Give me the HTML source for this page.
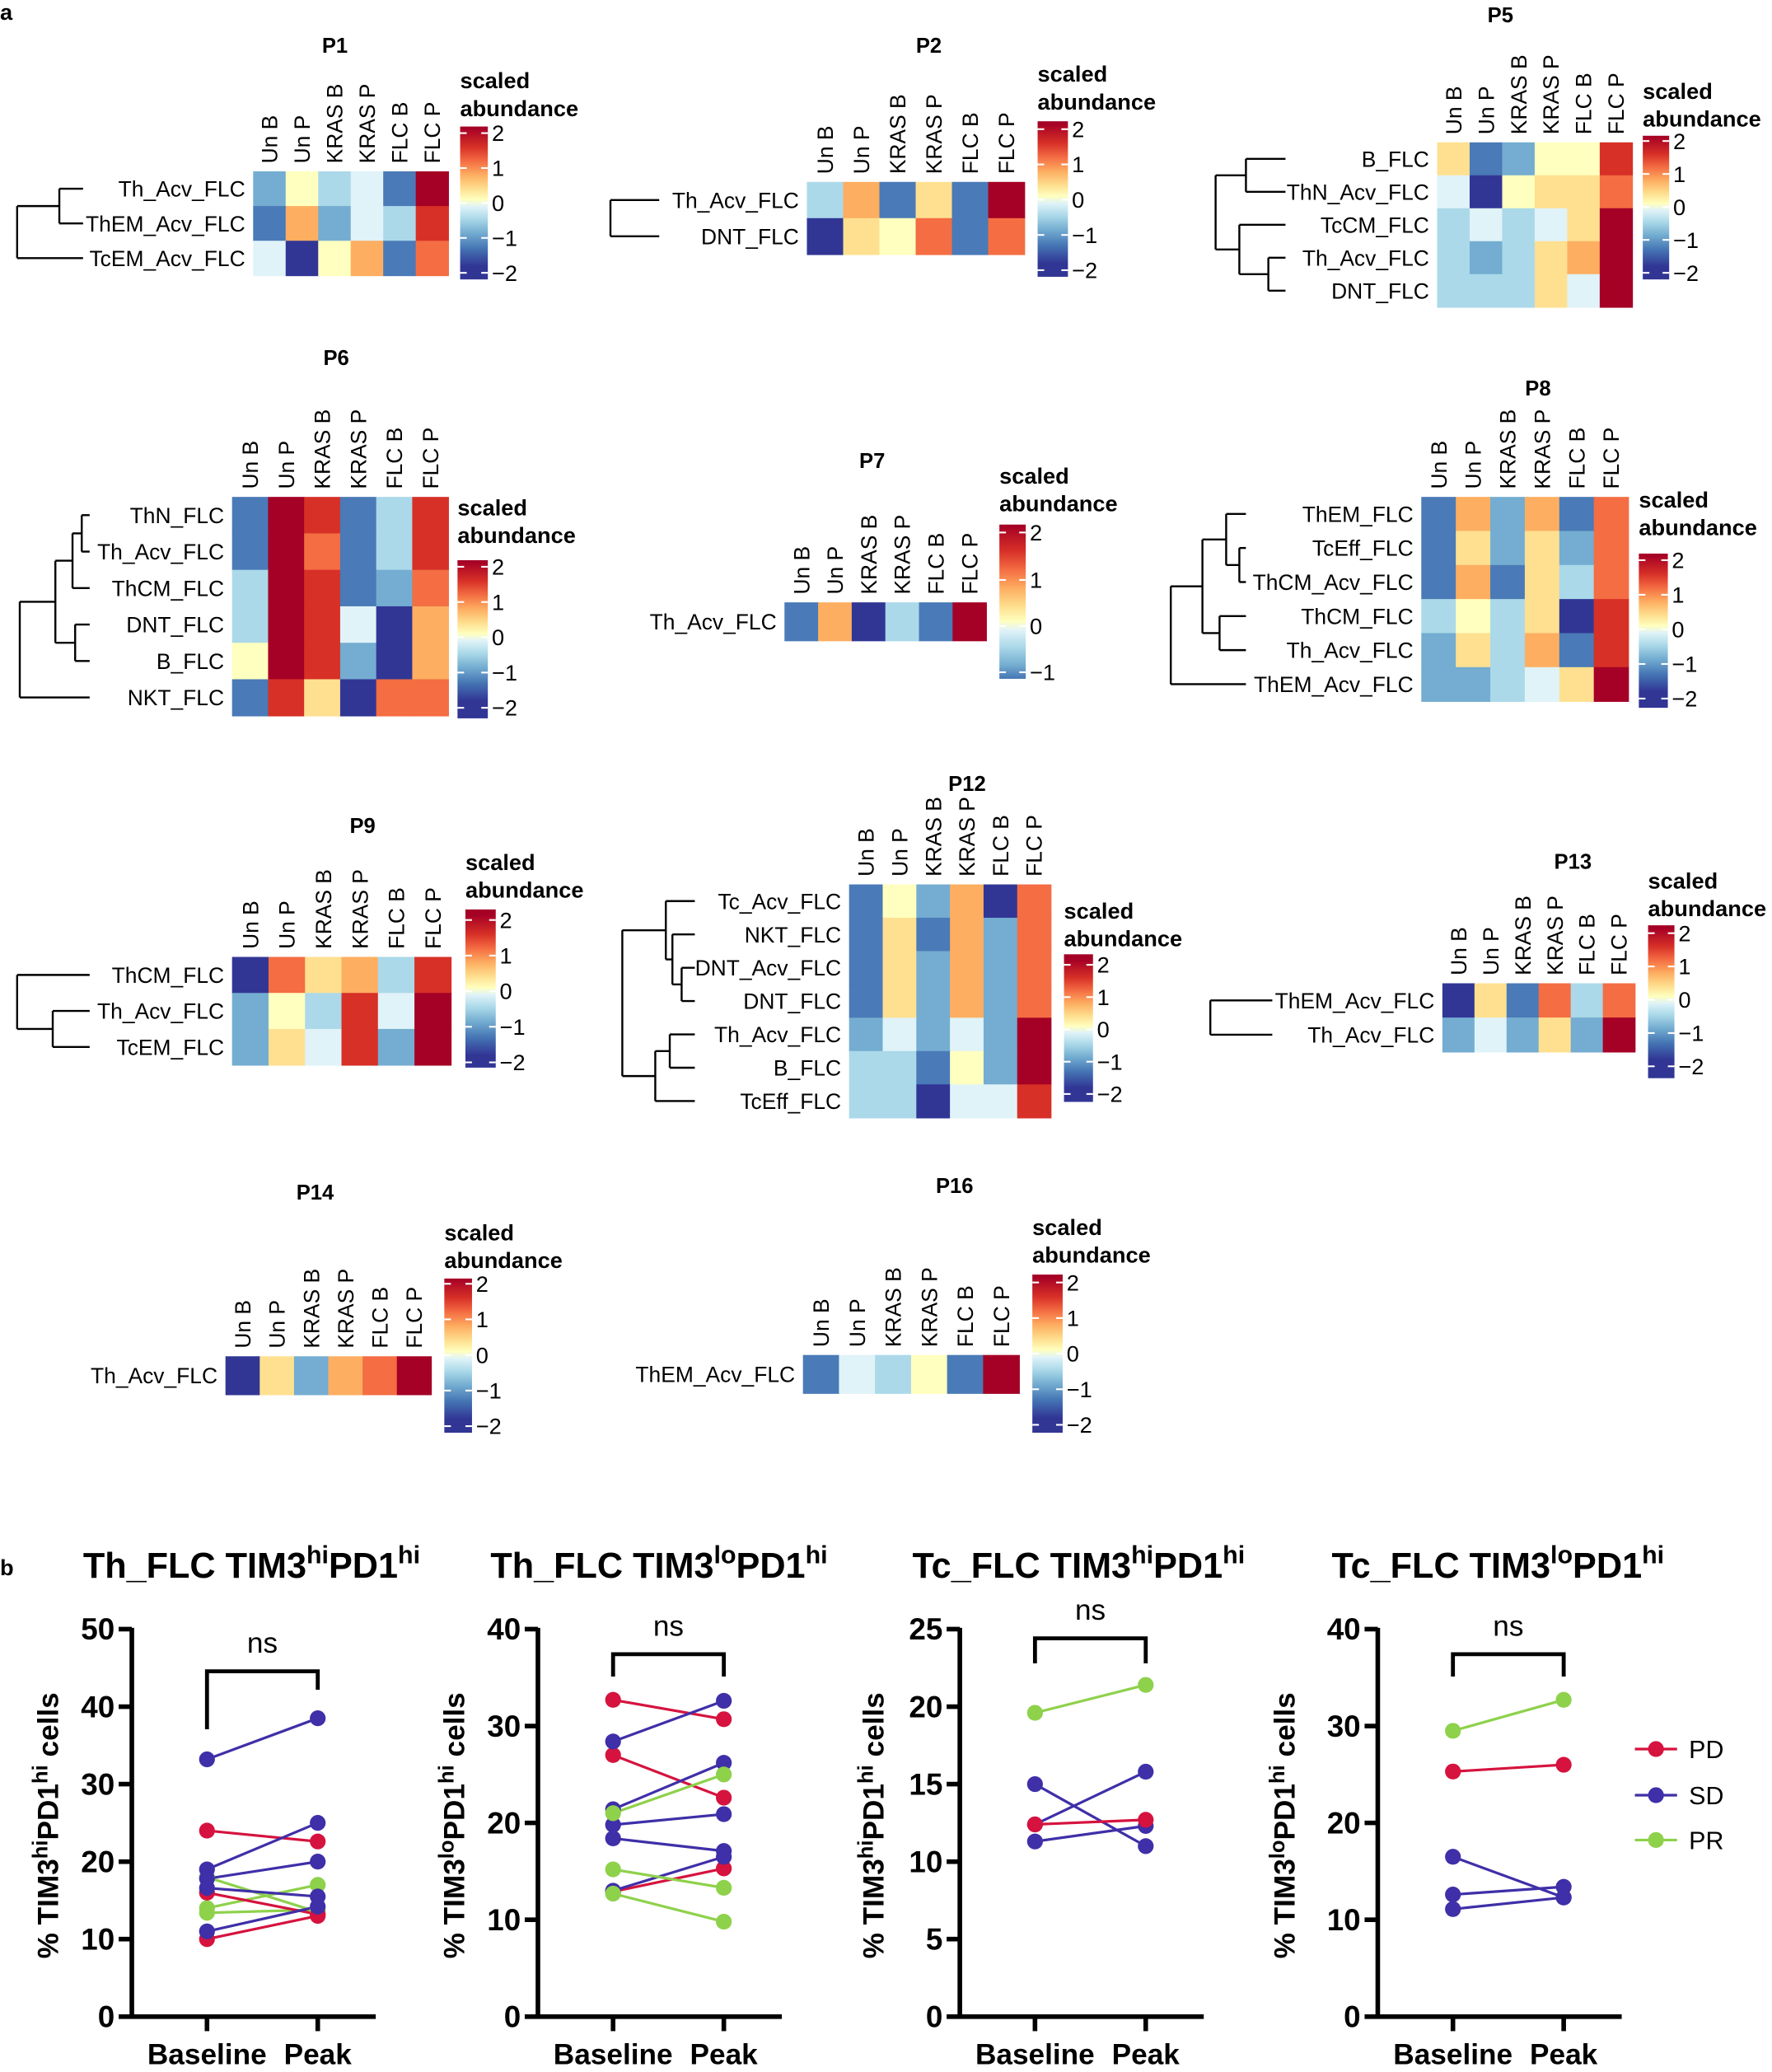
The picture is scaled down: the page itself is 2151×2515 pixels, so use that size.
<!DOCTYPE html>
<html><head><meta charset="utf-8">
<style>
html,body{margin:0;padding:0;background:#fff;}
svg{display:block;font-family:"Liberation Sans",Arial,sans-serif;}
</style></head>
<body>
<svg id="s" xmlns="http://www.w3.org/2000/svg" width="2151" height="2515" viewBox="0 0 1344 1572" preserveAspectRatio="none"></svg>
<script>
const S=document.getElementById('s');
let out='';
const C={A:'#313695',B:'#4a7ab7',C:'#74add1',D:'#abd9e9',E:'#e0f3f8',F:'#ffffbf',G:'#fee090',H:'#fdae61',I:'#f46d43',J:'#d73027',K:'#a50026'};
const cols=['Un B','Un P','KRAS B','KRAS P','FLC B','FLC P'];
const stopsV=[[2.15,'#a50026'],[1.6,'#d73027'],[1.2,'#f46d43'],[0.8,'#fdae61'],[0.4,'#fee090'],[0.1,'#ffffbf'],[-0.1,'#e0f3f8'],[-0.45,'#abd9e9'],[-0.85,'#74add1'],[-1.3,'#4575b4'],[-1.8,'#313695'],[-2.2,'#313695']];
let gid=0;
function line(x1,y1,x2,y2,w,c){out+=`<line x1="${x1}" y1="${y1}" x2="${x2}" y2="${y2}" stroke="${c||'#000'}" stroke-width="${w||1.5}"/>`;}
function txt(x,y,t,o){o=o||{};out+=`<text x="${x}" y="${y}" font-size="${o.fs||15}" ${o.b?'font-weight="bold"':''} text-anchor="${o.a||'start'}" ${o.tr?`transform="${o.tr}"`:''} fill="#000">${t}</text>`;}
function tree(node,P){
  if(typeof node==='number'){return [P.leaf,P.y0+(node+0.5)*P.rh];}
  const x=node[0];const a=tree(node[1],P),b=tree(node[2],P);
  line(x,a[1],a[0],a[1]);line(x,b[1],b[0],b[1]);line(x,a[1],x,b[1]);
  return [x,(a[1]+b[1])/2];
}
function heat(P){
  const n=P.rows.length, cw=(P.x1-P.x0)/6; P.rh=(P.y1-P.y0)/n;
  txt((P.x0+P.x1)/2+(P.tdx||0),P.ty,P.title,{b:1,fs:16,a:'middle'});
  for(let j=0;j<6;j++){const cx=P.x0+(j+0.5)*cw+6;txt(cx,P.y0-6,cols[j],{fs:16.5,tr:`rotate(-90 ${cx} ${P.y0-6})`});}
  P.rows.forEach((r,i)=>{
    txt(P.x0-6,P.y0+(i+0.5)*P.rh+6,r[0],{a:'end',fs:16.5});
    for(let j=0;j<6;j++)out+=`<rect x="${P.x0+j*cw}" y="${P.y0+i*P.rh}" width="${cw+0.5}" height="${P.rh+0.5}" fill="${C[r[1][j]]}"/>`;
  });
  if(P.tree)tree(P.tree,P);
  const cb=P.cb; const t=cb.t;
  const v1=t[0][0],y1=t[0][1],v2=t[t.length-1][0],y2=t[t.length-1][1];
  const yv=v=>y1+(v-v1)*(y2-y1)/(v2-v1);
  gid++;
  let st='';stopsV.forEach(s=>{let o=(yv(s[0])-cb.y0)/(cb.y1-cb.y0);o=Math.max(0,Math.min(1,o));st+=`<stop offset="${o}" stop-color="${s[1]}"/>`;});
  out+=`<defs><linearGradient id="g${gid}" x1="0" y1="0" x2="0" y2="1">${st}</linearGradient></defs>`;
  out+=`<rect x="${cb.x}" y="${cb.y0}" width="${cb.w}" height="${cb.y1-cb.y0}" fill="url(#g${gid})"/>`;
  t.forEach(k=>{const y=k[1];line(cb.x,y,cb.x+5,y,1.3,'#fff');line(cb.x+cb.w-5,y,cb.x+cb.w,y,1.3,'#fff');
    txt(cb.x+cb.w+3,y+6,(k[0]<0?'\u2212':'')+Math.abs(k[0]),{fs:17});});
  txt(cb.x,cb.sy,'scaled',{b:1,fs:17});txt(cb.x,cb.sy+21,'abundance',{b:1,fs:17});
}
function ticks5(a,b){const r=[];for(let i=0;i<5;i++)r.push([2-i,a+(b-a)*i/4]);return r;}
txt(0,15,'a',{b:1,fs:17});txt(0,1195,'b',{b:1,fs:17});
heat({title:'P1',ty:40,x0:192,x1:340,y0:130,y1:209,leaf:63,tdx:-12,
 rows:[['Th_Acv_FLC','CFDEBK'],['ThEM_Acv_FLC','BHCEDJ'],['TcEM_Acv_FLC','EAFHBI']],
 tree:[13,[45,0,1],2],cb:{x:349,w:21,y0:96,y1:212,t:ticks5(101,207),sy:67}});
heat({title:'P2',ty:40,x0:612,x1:777,y0:138,y1:193,leaf:500,tdx:10,
 rows:[['Th_Acv_FLC','DHBGBK'],['DNT_FLC','AGFIBI']],
 tree:[463,0,1],cb:{x:787,w:23,y0:92,y1:210,t:ticks5(98,205),sy:62}});
heat({title:'P5',ty:17,x0:1090,x1:1238,y0:108,y1:233,leaf:975,tdx:-26,
 rows:[['B_FLC','GBCFFJ'],['ThN_Acv_FLC','EAFGGI'],['TcCM_FLC','DEDEGK'],['Th_Acv_FLC','DCDGHK'],['DNT_FLC','DDDGEK']],
 tree:[922,[945,0,1],[940,2,[962,3,4]]],cb:{x:1246,w:20,y0:103,y1:212,t:ticks5(107,207),sy:75}});
heat({title:'P6',ty:277,x0:176,x1:340,y0:377,y1:543,leaf:68,tdx:-3,
 rows:[['ThN_FLC','BKJBDJ'],['Th_Acv_FLC','BKIBDJ'],['ThCM_FLC','DKJBCI'],['DNT_FLC','DKJEAH'],['B_FLC','FKJCAH'],['NKT_FLC','BJGAII']],
 tree:[15,[42,[55,[62,0,1],2],[57,3,4]],5],cb:{x:347,w:23,y0:425,y1:545,t:ticks5(430,537),sy:391}});
heat({title:'P7',ty:355,x0:595,x1:748,y0:457,y1:486,leaf:0,tdx:-10,
 rows:[['Th_Acv_FLC','BHADBK']],
 cb:{x:758,w:20,y0:398,y1:515,t:[[2,404],[1,440],[0,475],[-1,510]],sy:367}});
heat({title:'P8',ty:300,x0:1078,x1:1235,y0:377,y1:532,leaf:945,tdx:10,
 rows:[['ThEM_FLC','BHCHBI'],['TcEff_FLC','BGCGCI'],['ThCM_Acv_FLC','BHBGDI'],['ThCM_FLC','DFDGAJ'],['Th_Acv_FLC','CGDHBJ'],['ThEM_Acv_FLC','CCDEGK']],
 tree:[888,[912,[930,0,[940,1,2]],[925,3,4]],5],cb:{x:1243,w:22,y0:420,y1:537,t:ticks5(425,530),sy:385}});
heat({title:'P9',ty:632,x0:176,x1:342,y0:726,y1:808,leaf:68,tdx:16,
 rows:[['ThCM_FLC','AIGHDJ'],['Th_Acv_FLC','CFDJEK'],['TcEM_FLC','CGEJCK']],
 tree:[13,0,[40,1,2]],cb:{x:353,w:23,y0:690,y1:810,t:ticks5(698,806),sy:660}});
heat({title:'P12',ty:600,x0:644,x1:797,y0:671,y1:848,leaf:527,tdx:13,
 rows:[['Tc_Acv_FLC','BFCHAI'],['NKT_FLC','BGBHCI'],['DNT_Acv_FLC','BGCHCI'],['DNT_FLC','BGCHCI'],['Th_Acv_FLC','CECECK'],['B_FLC','DDBFCK'],['TcEff_FLC','DDAEEJ']],
 tree:[472,[505,0,[510,1,[517,2,3]]],[497,[508,4,5],6]],cb:{x:807,w:22,y0:724,y1:836,t:ticks5(732,830),sy:697}});
heat({title:'P13',ty:659,x0:1094,x1:1240,y0:746,y1:798,leaf:965,tdx:26,
 rows:[['ThEM_Acv_FLC','AGBIDI'],['Th_Acv_FLC','CECGCK']],
 tree:[918,0,1],cb:{x:1250,w:20,y0:702,y1:818,t:ticks5(708,809),sy:674}});
heat({title:'P14',ty:910,x0:171,x1:327,y0:1029,y1:1058,leaf:0,tdx:-10,
 rows:[['Th_Acv_FLC','AGCHIK']],
 cb:{x:337,w:21,y0:970,y1:1087,t:ticks5(974,1082),sy:941}});
heat({title:'P16',ty:905,x0:609,x1:773,y0:1028,y1:1057,leaf:0,tdx:33,
 rows:[['ThEM_Acv_FLC','BEDFBK']],
 cb:{x:783,w:23,y0:967,y1:1087,t:ticks5(973,1081),sy:937}});

const RED='#d5133e',BLU='#3f2fa8',GRN='#8ed14b';
function plot(p){
  const Y0=1530,YT=1236,sc=(Y0-YT)/p.max, yv=v=>Y0-v*sc;
  out+=`<text x="${p.tx}" y="1197" font-size="27" font-weight="bold">${p.t1}<tspan dy="-11" font-size="19">${p.s1}</tspan><tspan dy="11">PD1</tspan><tspan dy="-11" font-size="19">hi</tspan></text>`;
  out+=`<text transform="translate(${p.lx} 1385) rotate(-90)" text-anchor="middle" font-size="22" font-weight="bold">% TIM3<tspan dy="-8" font-size="16">${p.s1}</tspan><tspan dy="8">PD1</tspan><tspan dy="-8" font-size="16">hi</tspan><tspan dy="8"> cells</tspan></text>`;
  const ax=p.ax;
  line(ax,YT-1,ax,Y0+1.5,3.5);line(ax,Y0,ax+185,Y0,3.5);
  for(let v=0;v<=p.max;v+=p.step){const y=yv(v);line(ax-10,y,ax,y,3.5);txt(ax-13,y+8,v,{a:'end',fs:23,b:1});}
  const xb=ax+57,xp=ax+141;
  line(xb,Y0,xb,Y0+11,3.5);line(xp,Y0,xp,Y0+11,3.5);
  txt(xb,1566,'Baseline',{a:'middle',fs:22,b:1});txt(xp,1566,'Peak',{a:'middle',fs:22,b:1});
  out+=`<polyline points="${xb},${p.bl} ${xb},${p.by} ${xp},${p.by} ${xp},${p.br}" fill="none" stroke="#000" stroke-width="3"/>`;
  txt((xb+xp)/2,p.by-14,'ns',{a:'middle',fs:22});
  p.pts.forEach(q=>{line(xb,yv(q[1]),xp,yv(q[2]),2,q[0]);});
  p.pts.forEach(q=>{out+=`<circle cx="${xb}" cy="${yv(q[1])}" r="6" fill="${q[0]}"/><circle cx="${xp}" cy="${yv(q[2])}" r="6" fill="${q[0]}"/>`;});
}
plot({tx:63,t1:'Th_FLC TIM3',s1:'hi',lx:44,ax:100,max:50,step:10,by:1268,bl:1312,br:1282,
 pts:[[GRN,18,13.5],[GRN,14,17],[GRN,13.4,13.8],[RED,24,22.6],[RED,16,13.2],[RED,10,13],[BLU,33.2,38.5],[BLU,19,25],[BLU,17.8,20],[BLU,16.6,15.5],[BLU,11,14.2]]});
plot({tx:372,t1:'Th_FLC TIM3',s1:'lo',lx:352,ax:408,max:40,step:10,by:1255,bl:1272,br:1272,
 pts:[[RED,32.7,30.7],[RED,27,22.6],[RED,12.9,15.3],[BLU,28.4,32.6],[BLU,21.4,26.2],[BLU,19.8,20.9],[BLU,18.4,17.1],[BLU,13,16.5],[GRN,21,25],[GRN,15.2,13.3],[GRN,12.7,9.8]]});
plot({tx:692,t1:'Tc_FLC TIM3',s1:'hi',lx:670,ax:728,max:25,step:5,by:1243,bl:1262,br:1262,
 pts:[[GRN,19.6,21.4],[BLU,15,11],[BLU,12.4,15.8],[BLU,11.3,12.3],[RED,12.4,12.7]]});
plot({tx:1010,t1:'Tc_FLC TIM3',s1:'lo',lx:982,ax:1045,max:40,step:10,by:1255,bl:1272,br:1272,
 pts:[[GRN,29.5,32.7],[RED,25.3,26],[BLU,16.5,12.3],[BLU,12.6,13.4],[BLU,11.1,12.3]]});
[[RED,'PD',1327],[BLU,'SD',1362],[GRN,'PR',1396]].forEach(l=>{line(1240,l[2],1272,l[2],2,l[0]);out+=`<circle cx="1256" cy="${l[2]}" r="6" fill="${l[0]}"/>`;txt(1281,l[2]+7,l[1],{fs:19});});
S.innerHTML=out;
</script>
</body></html>
